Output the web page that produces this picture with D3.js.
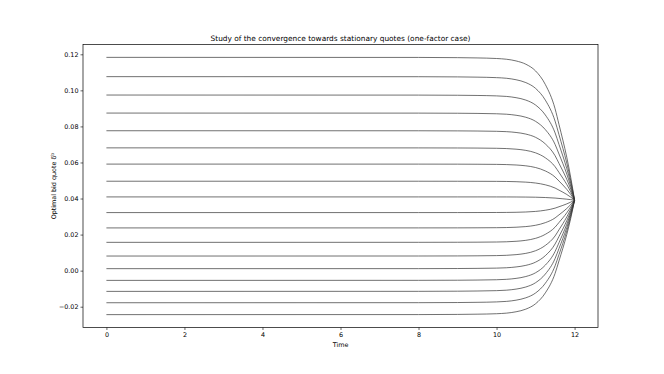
<!DOCTYPE html>
<html>
<head>
<meta charset="utf-8">
<script src="https://cdn.jsdelivr.net/npm/d3@7"></script>
<style>
  body { margin: 0; background: #fff; }
  text { font-family: "DejaVu Sans", sans-serif; fill: #000; }
</style>
</head>
<body>
<svg id="chart"></svg>
<script>
// starting quote of each curve at t = 0
var startQuotes = [0.1183, 0.1076, 0.0974, 0.0874, 0.0776, 0.0681, 0.0591, 0.0496, 0.0409,
    0.0322, 0.0237, 0.0157, 0.0081, 0.0011, -0.0054, -0.0115, -0.0178, -0.0244];
// all curves meet here at the final time
var endQuote = 0.0391;
var profileTimes = [0, 8, 9, 9.5, 10, 10.25, 10.5, 10.75, 11, 11.25, 11.5, 11.6, 11.7, 11.8, 11.9, 12];
var profileShare = [0, 0.0005, 0.002, 0.004, 0.008, 0.013, 0.025, 0.048, 0.095, 0.19, 0.36, 0.47, 0.58, 0.7, 0.84, 1];
var xTicks = [0, 2, 4, 6, 8, 10, 12];
var yTicks = [-0.02, 0.00, 0.02, 0.04, 0.06, 0.08, 0.10, 0.12];

var W = 664, H = 374;
var margin = { top: 44.5, right: 66, bottom: 46.5, left: 83 },
    width = W - margin.left - margin.right,
    height = H - margin.top - margin.bottom;

var svg = d3.select("#chart").attr("width", W).attr("height", H);
var g = svg.append("g").attr("transform", "translate(" + margin.left + "," + margin.top + ")");

// matplotlib style 5% margins
var x = d3.scaleLinear().domain([-0.6, 12.6]).range([0, width]);
var yMin = d3.min(startQuotes), yMax = d3.max(startQuotes), pad = (yMax - yMin) * 0.05;
var y = d3.scaleLinear().domain([yMin - pad, yMax + pad]).range([height, 0]);

var series = startQuotes.map(function (s) {
    return profileTimes.map(function (t, i) {
        return { t: t, v: s + (endQuote - s) * profileShare[i] };
    });
});

var line = d3.line()
    .x(function (d) { return x(d.t); })
    .y(function (d) { return y(d.v); })
    .curve(d3.curveMonotoneX);

g.selectAll("path.quote")
    .data(series)
    .join("path")
    .attr("class", "quote")
    .attr("d", line)
    .attr("fill", "none")
    .attr("stroke", "#333")
    .attr("stroke-width", 0.7);

// axes
var xAxis = g.append("g")
    .attr("transform", "translate(0," + height + ")")
    .call(d3.axisBottom(x).tickValues(xTicks).tickSize(2.5).tickPadding(2).tickFormat(d3.format("d")));
var yAxis = g.append("g")
    .call(d3.axisLeft(y).tickValues(yTicks).tickSize(2.5).tickPadding(2)
        .tickFormat(function (d) { return d3.format(".2f")(d).replace("-", "\u2212"); }));
[xAxis, yAxis].forEach(function (a) {
    a.select(".domain").remove();
    a.selectAll("line").attr("stroke", "#000").attr("stroke-width", 0.6);
    a.selectAll("text").style("font-size", "6.4px").attr("fill", "#000");
});

// frame
g.append("rect")
    .attr("width", width).attr("height", height)
    .attr("fill", "none").attr("stroke", "#000").attr("stroke-width", 0.7);

// labels
svg.append("text")
    .attr("x", margin.left + width / 2).attr("y", 41)
    .attr("text-anchor", "middle").style("font-size", "7.4px")
    .text("Study of the convergence towards stationary quotes (one-factor case)");

svg.append("text")
    .attr("x", margin.left + width / 2).attr("y", margin.top + height + 19)
    .attr("text-anchor", "middle").style("font-size", "6.4px")
    .text("Time");

var yl = svg.append("text")
    .attr("transform", "translate(56," + (margin.top + height / 2) + ") rotate(-90)")
    .attr("text-anchor", "middle").style("font-size", "6.4px");
yl.append("tspan").text("Optimal bid quote \u03b4");
yl.append("tspan").attr("dy", -2.5).style("font-size", "4.6px").text("b");
</script>
</body>
</html>
